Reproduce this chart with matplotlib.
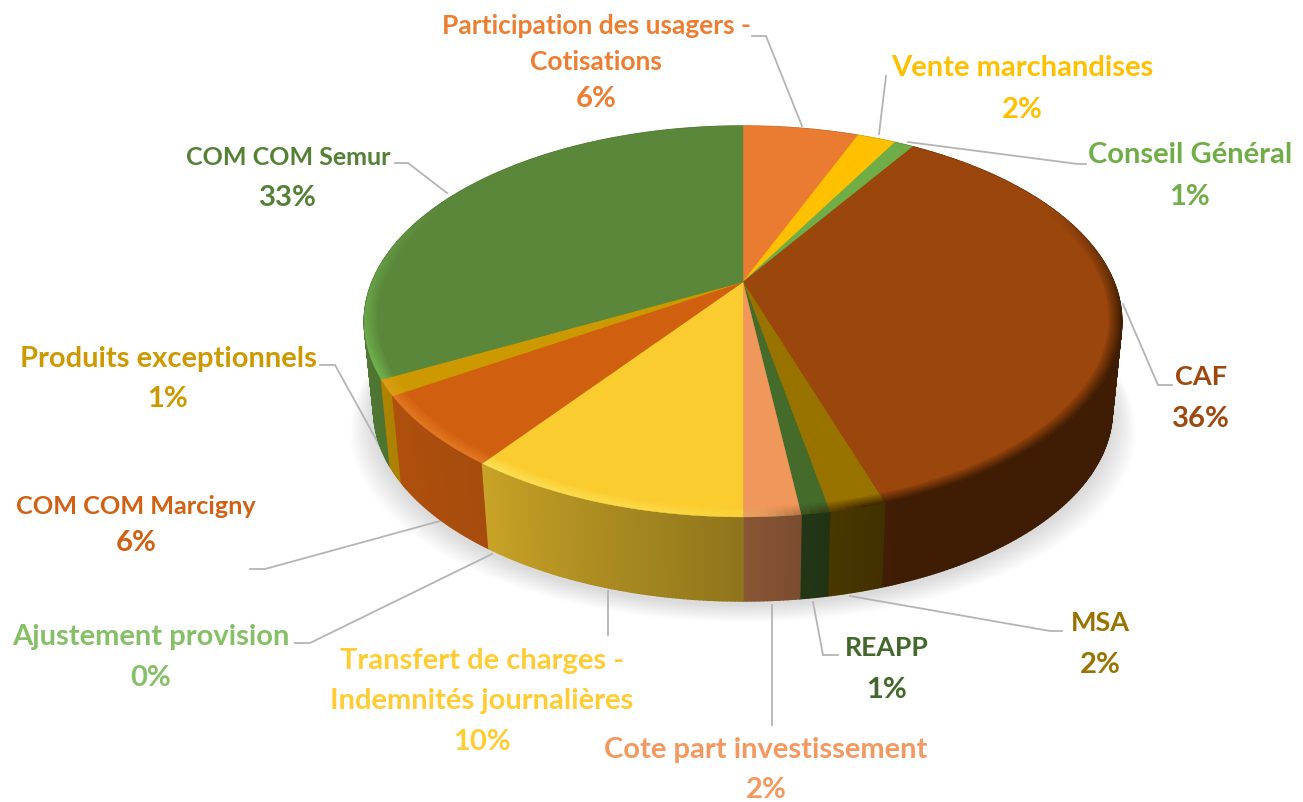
import numpy as np
import matplotlib
matplotlib.use("Agg")
import matplotlib.pyplot as plt
from matplotlib.collections import PolyCollection
from matplotlib.colors import to_rgb

# ---- data (clockwise from 12 o'clock) ----
categories = ["Participation des usagers -\nCotisations", "Vente marchandises", "Conseil Général", "CAF",
              "MSA", "REAPP", "Cote part investissement",
              "Transfert de charges -\nIndemnités journalières", "Ajustement provision",
              "COM COM Marcigny", "Produits exceptionnels", "COM COM Semur"]
values = [6.0, 2.0, 1.0, 36.0, 2.0, 1.0, 2.0, 10.0, 0.0, 5.9, 1.3, 32.8]
percent_labels = ["6%", "2%", "1%", "36%", "2%", "1%", "2%", "10%", "0%", "6%", "1%", "33%"]

# ---- styles ----
slice_colors = ["#E97C30", "#FFC000", "#70AD47", "#9A460C", "#997300", "#446B2A", "#F0975C",
                "#FBCC30", "#8CC168", "#D05F10", "#CC9A00", "#5A873A"]
text_colors = ["#ED7D31", "#FFC000", "#70AD47", "#9E480E", "#997300", "#43682B", "#F4985F",
               "#FFCD33", "#85C067", "#D26012", "#CC9A00", "#558135"]
label_x = [596, 1022, 1190, 1201, 1100, 887, 766, 482, 151, 136, 168, 288]
# baselines: one per text line, the last is the percentage
label_baselines = [(34, 70, 107), (76, 118), (163, 205), (385, 427), (631, 673), (656, 698), (758, 798),
                   (669, 709, 750), (645, 686), (514, 551), (367, 407), (165, 206)]
name_sizes = [19, 21, 21, 19.5, 19.5, 19.2, 21, 21, 21, 18.2, 21, 18]
PCT_SIZE = 21
leaders = [[(752, 37), (766, 37), (802, 127)], [(886, 77), (879, 135)],
           [(908, 143), (1078, 165), (1086, 165)], [(1123, 305), (1158, 386), (1172, 386)],
           [(850, 597), (1050, 632), (1062, 632)], [(813, 603), (823, 656), (838, 656)],
           [(772, 606), (772, 726)], [(608, 592), (608, 636)],
           [(492, 555), (310, 644), (295, 644)], [(440, 522), (265, 570), (250, 570)],
           [(397, 478), (335, 366), (320, 366)], [(447, 194), (408, 164), (395, 164)]]

# projection of the disc (perspective)
CX, TOP_Y, BOT_Y = 743.0, 283.0, 373.0
A, B, K, S = 371.0, 187.5, 0.2019, 0.975


def rim(theta, r=1.0, bottom=False):
    u, v = r * np.sin(theta), r * np.cos(theta)
    d = 1 + K * v
    if bottom:
        return CX + S * A * u / d, BOT_Y - S * B * v / d
    return CX + A * u / d, TOP_Y - B * v / d


def side_shade(deg):
    return np.interp(deg, [0, 90, 160, 172, 180, 216, 237, 250, 270, 360],
                     [.9, .41, .41, .5, .57, .8, .84, .88, .9, .9])


def mix(c, target, t):
    return tuple((1 - t) * np.array(c) + t * np.array(target))


fig = plt.figure(figsize=(13.03, 8.03), dpi=100, facecolor="white")
ax = fig.add_axes([0, 0, 1, 1])
ax.set_xlim(0, 1303)
ax.set_ylim(803, 0)
ax.axis("off")

# soft shadow under the disc
tt = np.radians(np.linspace(0, 360, 361))
bx, by = rim(tt, bottom=True)
for grow in np.linspace(24, 2, 12):
    ax.fill(CX + (bx - CX) * (1 + grow / 380), by + grow * 0.75 + 3, color="#808080", alpha=0.022, lw=0, zorder=1)

# leader lines
for pts in leaders:
    xs, ys = zip(*pts)
    ax.plot(xs, ys, color="#B4B4B4", lw=1.3, zorder=2, solid_joinstyle="miter")

edges = np.concatenate([[0], np.cumsum(values)]) / np.sum(values) * 360.0

# side wall, back to front
quads = []
for i, col in enumerate(slice_colors):
    if values[i] <= 0:
        continue
    base = to_rgb(col)
    n = max(2, int(edges[i + 1] - edges[i]) * 2)
    g = np.linspace(edges[i], edges[i + 1], n + 1)
    for a0, a1 in zip(g[:-1], g[1:]):
        t0, t1 = np.radians(a0), np.radians(a1)
        p = [rim(t0), rim(t1), rim(t1, bottom=True), rim(t0, bottom=True)]
        m = (a0 + a1) / 2
        quads.append((np.cos(np.radians(m)), p, tuple(np.array(base) * side_shade(m))))
quads.sort(key=lambda q: -q[0])
ax.add_collection(PolyCollection([q[1] for q in quads], facecolors=[q[2] for q in quads],
                                 edgecolors=[q[2] for q in quads], linewidths=1.0, zorder=3))

# bevel on the rim: dark on the right, light on the front-left
radii = np.linspace(1.0, 0.97, 7)
for k, r in enumerate(radii):
    polys, cols = [], []
    t_fall = 1 - k / len(radii)
    for i, col in enumerate(slice_colors):
        if values[i] <= 0:
            continue
        base = to_rgb(col)
        n = max(2, int(edges[i + 1] - edges[i]))
        g = np.linspace(edges[i], edges[i + 1], n + 1)
        for a0, a1 in zip(g[:-1], g[1:]):
            m = (a0 + a1) / 2
            dark = np.interp(m, [65, 100, 165, 178, 360], [0, .75, .75, 0, 0])
            light = np.interp(m, [170, 190, 215, 245, 270, 300], [0, .25, .4, .35, .2, 0])
            c = mix(base, (0.15, 0.07, 0), dark * t_fall)
            c = mix(c, (1, 1, 0.55) if i == 7 else (1, .62, .25) if i in (9, 10) else (.6, 1, .45), light * t_fall)
            polys.append([(CX, TOP_Y), rim(np.radians(a0), r), rim(np.radians(a1), r)])
            cols.append(c)
    ax.add_collection(PolyCollection(polys, facecolors=cols, edgecolors=cols, linewidths=0.3, zorder=4 + k * 0.01))

# flat top face
for i, col in enumerate(slice_colors):
    if values[i] <= 0:
        continue
    g = np.radians(np.linspace(edges[i], edges[i + 1], max(3, int(edges[i + 1] - edges[i]) + 2)))
    x, y = rim(g, 0.966)
    ax.fill(np.r_[CX, x], np.r_[TOP_Y, y], color=col, lw=0.3, zorder=5)

# labels: each line is its own text on a fixed baseline
for name, pct, color, lx, bases, size in zip(categories, percent_labels, text_colors, label_x,
                                             label_baselines, name_sizes):
    for line, ly in zip(name.split("\n"), bases[:-1]):
        ax.text(lx, ly, line, ha="center", va="baseline", color=color, fontsize=size,
                fontweight="bold", family="Lato", zorder=6)
    ax.text(lx, bases[-1], pct, ha="center", va="baseline", color=color, fontsize=PCT_SIZE,
            fontweight="bold", family="Lato", zorder=6)

fig.savefig("out.png", dpi=100, facecolor="white")
